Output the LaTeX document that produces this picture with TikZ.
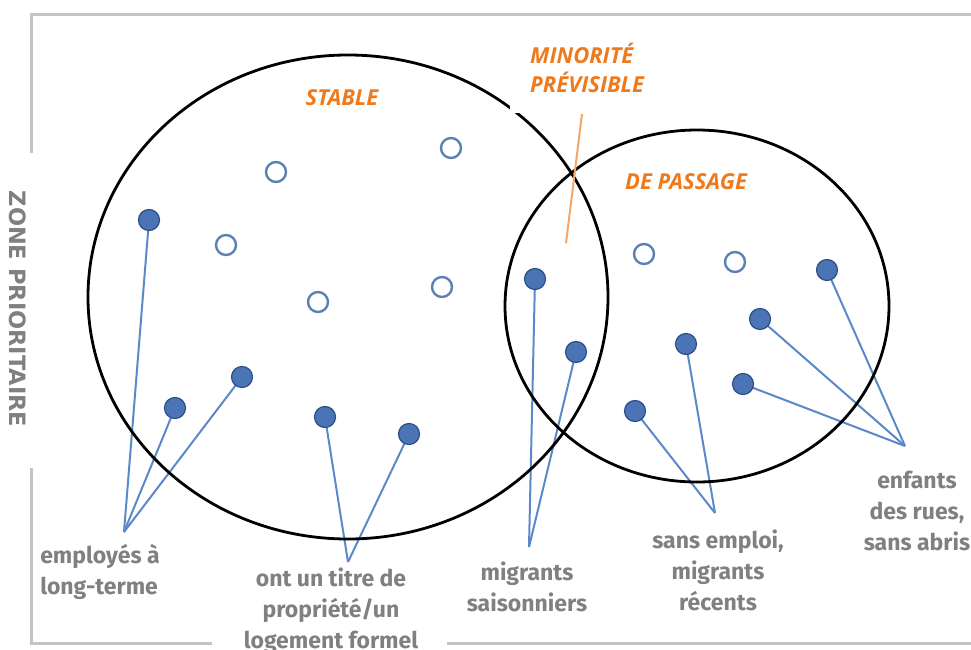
\documentclass[tikz,border=0pt]{standalone}
\usepackage{fontspec}
\usetikzlibrary{backgrounds}
\setmainfont{Fira Sans}
\newfontfamily\tagfont{Open Sans}
\newfontfamily\sidefont{DejaVu Sans}
\definecolor{framegrey}{HTML}{C4C4C4}
\definecolor{labgrey}{HTML}{808080}
\definecolor{dotblue}{HTML}{4A74B6}
\definecolor{dotedge}{HTML}{2E4F86}
\definecolor{ringblue}{HTML}{5B80B4}
\definecolor{linkblue}{HTML}{5A88C8}
\definecolor{tagorange}{HTML}{EE7A1C}
\definecolor{pointer}{HTML}{F0A868}
\begin{document}
\begin{tikzpicture}[x=1pt,y=-1pt,
  frame/.style={draw=framegrey, line width=3pt},
  ring/.style={draw=black, line width=2.8pt},
  dot/.style={circle, minimum size=21pt, inner sep=0pt, fill=dotblue, draw=dotedge, line width=1.2pt},
  hollow/.style={circle, minimum size=20pt, inner sep=0pt, fill=white, draw=ringblue, line width=2.4pt},
  link/.style={draw=linkblue, line width=2pt},
  group/.style={text=labgrey, font=\bfseries\fontsize{23}{31}\selectfont, align=center, inner sep=0pt},
  tag/.style={text=tagorange, font=\tagfont\bfseries\itshape\fontsize{22}{29}\selectfont, inner sep=0pt}]
\useasboundingbox (0,0) rectangle (971,650);

% outer frame, open where the texts sit
\draw[frame] (31,153) -- (31,15) -- (971,15);
\draw[frame] (31,468) -- (31,643) -- (212,643);
\draw[frame] (447,643) -- (971,643);
\node[rotate=-90, text=labgrey, font=\sidefont\bfseries\fontsize{22.5}{24}\selectfont] (zone) at (18,309) {ZONE PRIORITAIRE};

% the two populations
\draw[ring] (348,297) ellipse [x radius=260, y radius=242];
\draw[ring] (697,306) ellipse [x radius=192, y radius=176];

% zone labels
\node[tag] (stable) at (342,98) {STABLE};
\node[tag] (passage) at (686,182) {DE PASSAGE};
\node[tag, align=left, fill=white, inner xsep=20pt, inner ysep=20pt, anchor=south west] (minor) at (510,113) {MINORITÉ\\PRÉVISIBLE};
\coordinate (ptrtop) at (582,114);
\coordinate (ptrbot) at (566,243);
\draw[draw=pointer, line width=2pt] (ptrtop) -- (ptrbot);

% group labels
\node[group, align=left] (emp) at (100,572) {employés à\\long-terme};
\node[group] (titre) at (331,611) {ont un titre de\\propriété/un\\logement formel};
\node[group] (mig) at (527,587) {migrants\\saisonniers};
\node[group] (sans) at (718,570) {sans emploi,\\migrants\\récents};
\node[group] (enf) at (917,511) {enfants\\des rues,\\sans abris};

% meeting points of the pointer lines
\coordinate (cEmp) at (124,532);
\coordinate (cTitre) at (348,562);
\coordinate (cMig) at (529,547);
\coordinate (cSans) at (715,513);
\coordinate (cEnf) at (905,446);

% households
\node[dot] (e1) at (149,220) {};
\node[dot] (e2) at (175,408) {};
\node[dot] (e3) at (242,377) {};
\node[dot] (t1) at (325,417) {};
\node[dot] (t2) at (409,434) {};
\node[dot] (m1) at (535,279) {};
\node[dot] (m2) at (576,352) {};
\node[dot] (s1) at (686,344) {};
\node[dot] (s2) at (635,411) {};
\node[dot] (r1) at (760,319) {};
\node[dot] (r2) at (743,384) {};
\node[dot] (r3) at (827,270) {};

\node[hollow] (o1) at (276,172) {};
\node[hollow] (o2) at (451,148) {};
\node[hollow] (o3) at (226,245) {};
\node[hollow] (o4) at (318,302) {};
\node[hollow] (o5) at (442,287) {};
\node[hollow] (o6) at (644,254) {};
\node[hollow] (o7) at (735,262) {};

% pointer lines, kept under the dots
\begin{scope}[on background layer]
\foreach \d/\c in {e1/cEmp,e2/cEmp,e3/cEmp,t1/cTitre,t2/cTitre,m1/cMig,m2/cMig,s1/cSans,s2/cSans,r1/cEnf,r2/cEnf,r3/cEnf}
  \draw[link] (\d.center) -- (\c);
\end{scope}
\end{tikzpicture}
\end{document}
